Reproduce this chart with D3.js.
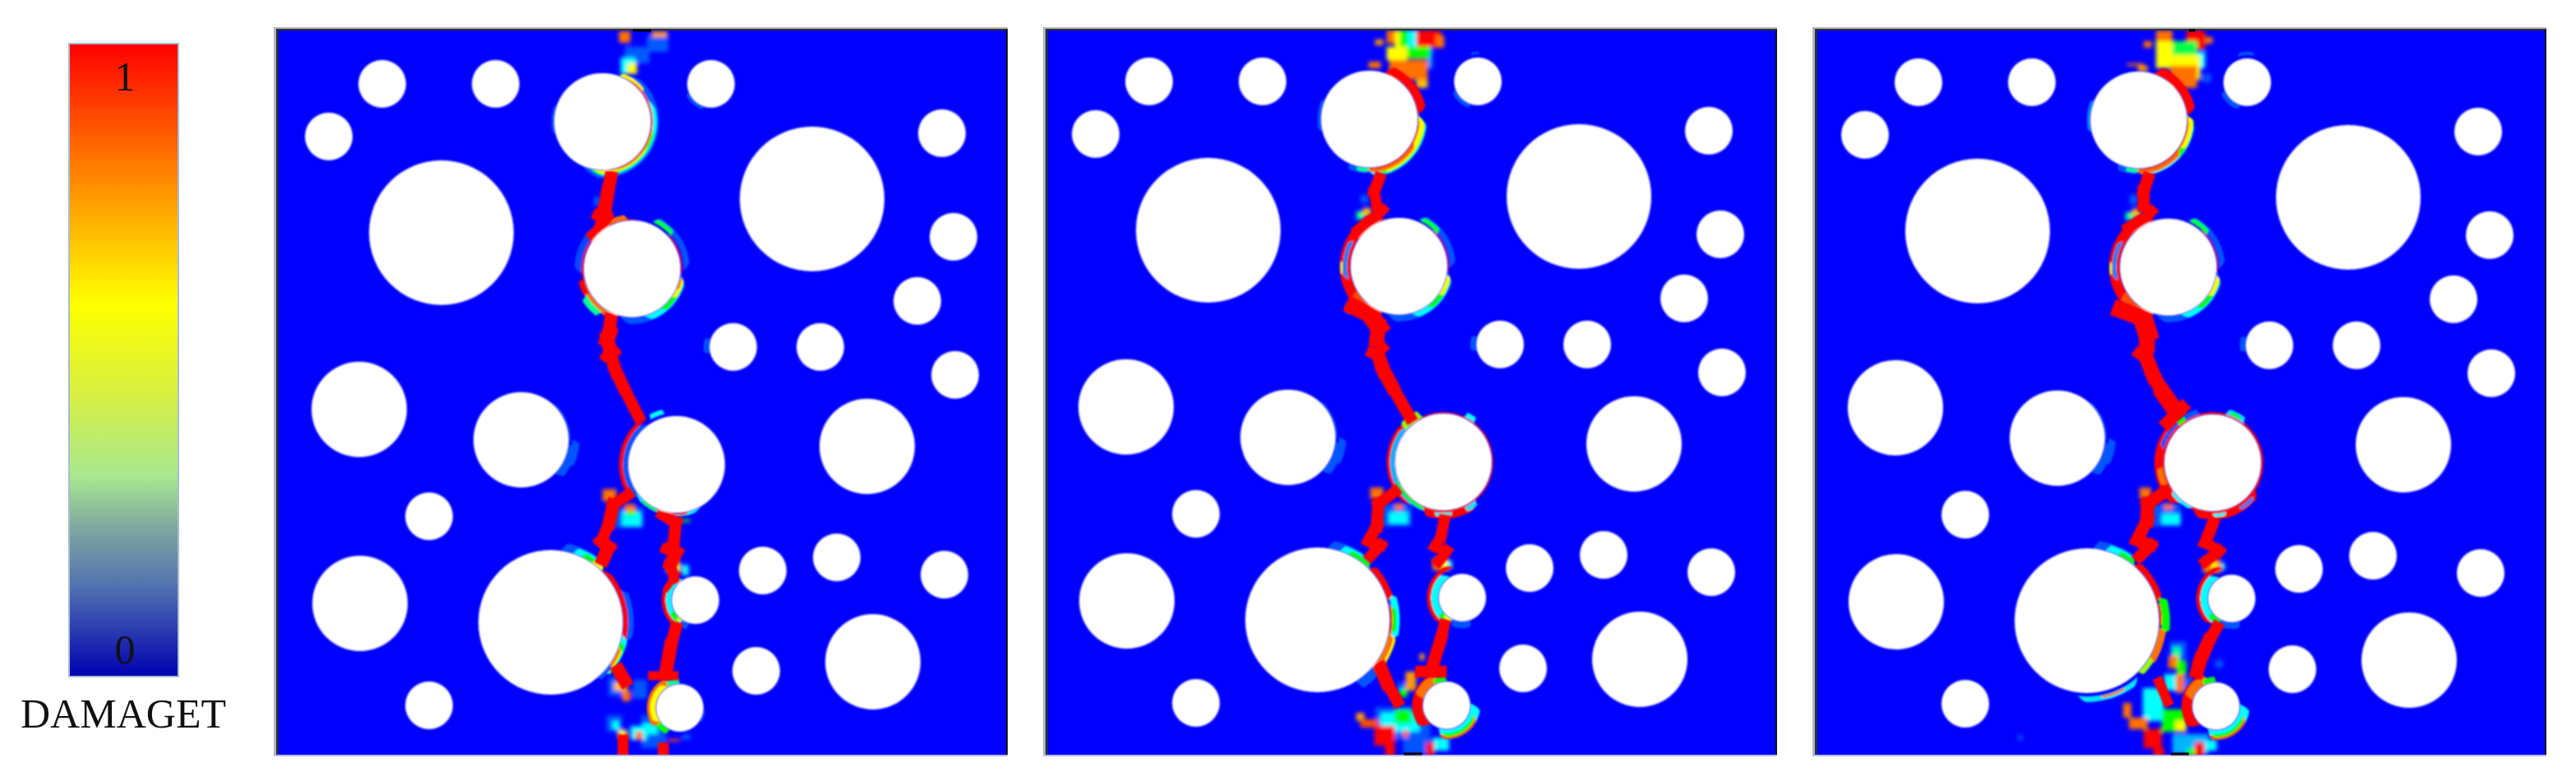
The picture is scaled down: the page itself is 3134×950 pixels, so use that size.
<!DOCTYPE html>
<html>
<head>
<meta charset="utf-8">
<script src="https://cdn.jsdelivr.net/npm/d3@7"></script>
<style>
  html, body { margin: 0; padding: 0; background: #fff; }
  svg { display: block; }
</style>
</head>
<body>
<script>
const width = 3134, height = 950;

// holes, same layout in every panel (specimen units)
const holeX = [397, 433, 487, 334, 510, 491, 529, 298, 556, 129, 267, 64, 810, 824, 780, 662, 826, 186, 592, 682, 813, 584, 186, 201, 652, 101, 719, 102, 726];
const holeY = [112, 291, 529, 721, 694, 825, 66, 499, 386, 66, 66, 130, 126, 252, 330, 386, 420, 592, 658, 642, 663, 780, 822, 247, 206, 462, 507, 698, 769];
const holeR = [59, 59, 59, 88, 29, 29, 29, 58, 29, 29, 29, 29, 29, 29, 29, 29, 29, 29, 29, 29, 29, 29, 29, 88, 88, 58, 58, 58, 58];

// damage around a hole: hole index, from deg, to deg, inner radius, outer radius, damage
const bands1 = [
  [0,20,205,59,69,.14],[0,255,290,59,62,.14],[0,60,195,59,66,.33],[0,95,195,59,64.5,.5],[0,115,190,59,63,.67],[0,20,55,59,64,.67],[0,25,175,59,61.5,.85],[0,30,170,59,60.5,1],
  [1,22,92,63,70,.14],[1,25,50,62,68,.45],[1,45,100,59,61,1],[1,95,195,59,67,.14],[1,100,165,59,66,.33],[1,100,145,59,65,.5],[1,100,125,59,64,.67],[1,100,115,59,62,.85],
  [1,265,320,62,70,.12],[1,195,370,59,61.5,1],[1,205,255,59,66,.85],[1,215,240,64,72,.4],[1,240,258,60,67,1],[1,325,355,60,66,.85],
  [6,195,250,29,33,.14],[8,255,290,29,36,.14],[7,40,95,58,60,.14],[7,95,135,58,68,.14],[7,90,120,62,71,.14],
  [2,225,325,59,66,.14],[2,235,325,65,70,1],[2,150,235,59,63,.33],[2,195,225,59,62,.5],[2,165,205,59,62,1],[2,330,347,63,69,.33],
  [3,8,45,88,98,.14],[3,18,45,88,96,.33],[3,25,45,88,94,.5],[3,35,45,88,93,.67],[3,65,105,93,101,.14],[3,43,120,88,94,1],[3,100,135,88,96,.33],[3,105,135,88,95,.5],[3,110,135,88,93.5,.67],[3,110,130,88,92,.85],[3,125,140,88,93,.14],
  [4,205,330,29,36,.33],[4,205,245,29,35,.5],[4,205,225,29,33,.67],[4,195,215,29,37,.14],[4,210,335,36,41,1],
  [5,225,345,29,40,.85],[5,235,330,29,36,.67],[5,330,360,29,36,.4],[5,205,235,29,36,.5],[5,95,125,29,31,.14]
];
const bands2 = [
  [0,18,85,59,70,1],[0,85,185,59,70,.33],[0,85,175,59,68.5,.5],[0,85,170,59,67,.67],[0,115,185,59,65,.85],[0,85,185,59,61,1],[0,180,205,59,66,.14],[0,180,195,59,64,.4],[0,255,295,59,63,.14],
  [6,195,250,29,34,.14],[6,345,363,33,36,.14],
  [1,220,345,59,72,1],[1,255,300,63,68,.2],[1,262,275,69,71.5,.65],[1,200,240,59,70,.9],[1,22,92,62,69,.14],[1,25,50,61,67,.45],[1,40,100,59,60.5,1],
  [1,95,195,59,67,.14],[1,100,165,59,66,.33],[1,100,145,59,65,.5],[1,100,125,59,64,.67],[8,255,290,29,36,.14],[7,40,95,58,60,.14],[7,95,135,58,68,.14],[7,90,120,62,71,.14],
  [2,0,360,59,61,1],[2,215,320,64,69,1],[2,190,320,59,65,.25],[2,190,250,59,63,.5],[2,310,335,60,70,.6],[2,140,205,59,69,1],[2,170,190,62,66,.33],[2,140,155,61,67,.3],[2,25,38,61,67,.33],
  [3,8,45,88,98,.14],[3,18,45,88,96,.33],[3,25,45,88,94,.5],[3,70,105,91,100,.33],[3,80,100,91,96,.5],[3,45,75,88,96,1],[3,75,125,88,91,1],[3,100,135,88,98,.67],[3,100,135,88,95,.85],[3,130,148,88,100,.14],
  [4,205,330,29,38,.33],[4,205,235,29,36,.5],[4,205,225,29,33,.67],[4,215,345,38,43,1],[4,160,205,29,37,.14],
  [5,220,345,29,42,1],[5,285,345,29,40,.85],[5,330,360,29,36,.5],[5,85,200,29,41,.33],[5,110,195,36,41,.9],[5,110,190,34,38,.5]
];
const bands3 = [
  [0,18,85,59,70,1],[0,85,185,59,68,.33],[0,85,140,59,67,.5],[0,85,125,59,66,.67],[0,125,185,59,66,.85],[0,85,185,59,61,1],[0,180,205,59,66,.14],[0,180,195,59,64,.4],[0,255,295,59,63,.2],
  [6,195,250,29,35,.14],[6,340,375,33,37,.14],
  [1,220,345,59,72,1],[1,255,300,63,68,.2],[1,262,275,69,71.5,.65],[1,200,240,59,70,.9],[1,22,92,62,69,.14],[1,25,50,61,67,.45],[1,40,100,59,60.5,1],
  [1,95,195,59,67,.14],[1,100,165,59,66,.33],[1,100,145,59,65,.5],[1,100,125,59,64,.67],[8,255,290,29,36,.14],[7,40,95,58,60,.14],[7,95,135,58,68,.14],[7,90,120,62,71,.14],
  [2,0,360,59,62,1],[2,215,330,59,71,1],[2,285,325,62,67,.14],[2,245,265,61,68,.85],[2,318,330,61,67,.5],[2,120,205,59,69,1],[2,165,180,62,66,.33],[2,130,150,63,67,.2],[2,205,235,59,63,.33],[2,15,38,61,68,.3],[2,20,32,62,66,.5],[2,327,345,61,68,.14],
  [3,5,40,88,98,.14],[3,15,40,88,96,.33],[3,25,40,88,94,.5],[3,72,100,91,101,.5],[3,40,75,88,96,1],[3,75,95,88,91,1],[3,95,125,88,97,.85],[3,120,135,88,95,.6],[3,138,187,92,99,.3],[3,150,170,93,96,.85],
  [4,205,330,29,38,.33],[4,205,235,29,36,.5],[4,215,345,38,43,1],[4,160,205,29,37,.14],
  [5,220,345,29,42,1],[5,285,345,29,40,.85],[5,330,360,29,36,.5],[5,85,200,29,41,.33],[5,110,195,36,41,.9],[5,110,190,34,38,.5]
];

// crack centre lines: x, y, width
const cracks1 = [
  [[407,180,14],[403,200,15],[400,218,15],[402,224,12],[392,226,10],[400,230,16],[395,240,14],[385,250,9]],
  [[407,352,13],[405,370,16],[403,376,18],[405,385,13],[411,392,13],[401,398,7],[409,402,14],[413,415,14],[422,434,14],[441,471,12]],
  [[428,566,10],[410,578,15],[405,600,14],[396,622,12],[404,630,18],[398,644,12]],
  [[470,590,10],[486,600,15],[484,622,12],[474,632,8],[487,636,14],[480,650,15],[484,668,8],[475,680,5]],
  [[486,728,12],[480,750,15],[474,782,15]],
  [[458,786,10],[484,786,10]],
  [[417,780,15],[424,792,14]],
  [[422,864,12],[422,884,12]],
  [[471,874,12],[471,884,12]]
];
const cracks2 = [
  [[409,184,13],[403,200,13],[406,217,11],[414,222,8],[401,234,13],[384,247,13]],
  [[378,340,14],[398,350,22],[408,364,18],[406,380,15],[414,390,7],[400,396,8],[408,400,16],[414,417,15],[424,436,16],[446,474,11]],
  [[428,565,11],[408,580,14],[406,607,13],[396,625,13],[411,630,11],[398,644,13]],
  [[488,600,14],[484,620,11],[476,632,11],[491,637,9],[481,650,15]],
  [[488,727,11],[484,744,14],[474,777,14]],
  [[460,784,13],[484,784,13]],
  [[411,780,15],[418,797,15],[431,820,11]]
];
const cracks3 = [
  [[408,183,13],[403,199,14],[403,216,13],[413,223,9],[402,233,13],[385,243,13]],
  [[375,343,13],[402,353,24],[407,369,20],[407,386,15],[397,396,6],[407,403,18],[415,423,15],[428,446,17],[442,466,20]],
  [[432,480,14],[450,462,14]],
  [[422,569,13],[408,579,15],[407,599,15],[395,623,13],[412,629,13],[398,643,13]],
  [[487,603,14],[478,626,13],[495,636,11],[478,649,13]],
  [[492,729,11],[482,746,15],[472,769,15],[468,783,15]],
  [[422,796,11],[432,819,11]]
];

// damaged element patches: x, y, w, h, damage
const cells1 = [
  [451,7,26,20,.15],[424,21,30,20,.15],[419,34,18,20,.33],[427,41,12,13,.67],[457,2,19,7,.8],[417,2,14,14,.85],
  [386,204,10,10,.14],
  [402,834,19,20,.14],[409,841,8,10,.33],[444,834,30,40,.14],[431,847,20,17,.33],[446,844,18,13,.33],[437,854,9,10,.85],[416,852,11,10,.67],
  [434,791,17,23,.14],[404,787,17,24,.14],[411,794,16,10,.75],[421,804,10,13,.85],
  [407,581,40,25,.14],[421,587,23,17,.33],[427,586,10,6,.5],[424,577,13,9,.85],[397,559,17,15,.85],
  [494,857,10,7,.14],[477,863,14,3,.9],[494,651,8,13,.33],[474,644,16,17,.85],[486,649,6,10,.67],[487,596,17,3,.5]
];
const cells2 = [
  [454,4,30,21,1],[478,10,10,15,.85],[418,4,10,16,.85],[428,4,6,23,.67],[434,4,10,23,.5],[444,4,10,20,.33],[468,24,6,26,.2],
  [418,24,25,16,.67],[443,24,28,14,.5],[421,40,47,24,.85],[454,64,14,10,.75],[404,15,10,7,.8],[396,42,15,8,.85],
  [386,204,10,10,.14],[381,224,10,10,.4],[389,220,10,10,.75],[369,337,12,10,.8],
  [398,560,16,14,.85],[411,580,37,27,.14],[421,590,23,14,.33],[428,579,10,8,.85],[458,762,6,8,.8],
  [441,784,13,23,.8],[431,797,10,10,.14],[433,805,10,10,.5],
  [404,827,67,40,.14],[411,834,47,23,.33],[428,830,20,17,.5],[438,855,6,9,.85],[438,864,33,20,.14],[474,864,20,16,.33],
  [381,834,10,10,.8],[386,842,22,10,.9],[403,850,25,24,1],[416,874,12,13,1],[466,870,10,17,1],
  [474,646,20,15,.85],[484,649,8,10,.67],[492,650,6,8,.33]
];
const cells3 = [
  [418,3,20,13,.85],[455,3,23,23,1],[478,11,9,8,.85],[403,16,10,8,.85],[418,16,20,33,.67],[438,16,30,20,.45],[468,29,10,20,.33],[475,56,10,10,.14],
  [435,33,37,30,.67],[435,46,33,27,.85],[383,43,20,3,.85],[396,46,12,7,.8],
  [386,203,10,12,.14],[381,224,10,10,.4],[389,220,10,10,.75],
  [398,559,14,14,.85],[412,579,36,27,.14],[425,591,23,13,.33],[428,578,10,8,.85],[490,769,10,9,.14],[250,860,6,6,.14],
  [435,746,20,20,.14],[438,753,10,16,.4],[433,764,12,15,.85],[443,769,12,17,.5],[428,786,14,20,.33],[442,786,10,23,.85],[452,789,11,17,.14],
  [402,803,26,40,.33],[425,829,30,27,.5],[442,843,13,13,.67],[438,859,44,24,.25],[378,821,10,18,.85],[385,839,23,14,.85],[403,853,22,23,1],[415,876,13,11,1],[465,869,12,17,1],[455,876,10,10,.5],[478,866,14,13,.33],
  [475,646,22,17,.85],[486,649,6,10,.67],[497,651,5,8,.33]
];

const bandSets = [bands1, bands2, bands3];
const crackSets = [cracks1, cracks2, cracks3];
const cellSets = [cells1, cells2, cells3];

const panelLeft = [336, 1272, 2208];
const panelShiftX = [0, -3, -3];
const panelShiftY = [0, -3, -2];
const panelW = 890, panelH = 882, panelTop = 36;

// black scraps left on the frame: panel, x from, x to, y (specimen units)
const nickPanel = [0, 1, 2, 2];
const nickFrom = [434, 436, 433, 455];
const nickTo = [456, 458, 455, 463];
const nickY = [1, 881, 881, 1];

// plot colours and colour bar stops
const damageStops = [0, .17, .33, .5, .67, .83, 1];
const damageColors = ["#0000ff", "#0066ff", "#00ffff", "#00ff00", "#ffff00", "#ff8000", "#ff0000"];
const legendOffsets = [0, .2, .41, .55, .684, .765, .86, 1];
const legendColors = ["#ff0000", "#ff8000", "#ffff00", "#d8f040", "#a8e890", "#7fa8a0", "#5070b0", "#0000b0"];

const color = d3.scaleLinear().domain(damageStops).range(damageColors);
const toRad = d => d * Math.PI / 180;
const crackFactor = 1.1;

const svg = d3.select("body").append("svg")
  .attr("width", width)
  .attr("height", height);

const defs = svg.append("defs");
function blur(id, s) {
  defs.append("filter").attr("id", id)
    .attr("x", "-2%").attr("y", "-2%").attr("width", "104%").attr("height", "104%")
    .append("feGaussianBlur").attr("stdDeviation", s);
}
blur("soft", 0.9);
blur("softer", 1.3);
blur("patch", 2.4);

const grad = defs.append("linearGradient").attr("id", "bar")
  .attr("x1", 0).attr("y1", 0).attr("x2", 0).attr("y2", 1);
grad.selectAll("stop").data(legendOffsets).join("stop")
  .attr("offset", d => d)
  .attr("stop-color", (d, i) => legendColors[i]);

// colour bar
svg.append("rect")
  .attr("x", 84).attr("y", 53).attr("width", 133).attr("height", 770)
  .attr("fill", "url(#bar)")
  .attr("stroke", "#a9bcd0").attr("stroke-width", 2);

const legendFont = "'Liberation Serif', serif";
svg.append("text").attr("x", 152).attr("y", 110).attr("text-anchor", "middle")
  .style("font-family", legendFont).style("font-size", "50px").attr("fill", "#111").text("1");
svg.append("text").attr("x", 152).attr("y", 807).attr("text-anchor", "middle")
  .style("font-family", legendFont).style("font-size", "50px").attr("fill", "#111").text("0");
svg.append("text").attr("x", 25).attr("y", 885)
  .attr("textLength", 250).attr("lengthAdjust", "spacingAndGlyphs")
  .style("font-family", legendFont).style("font-size", "50px").attr("fill", "#111").text("DAMAGET");

panelLeft.forEach((left, p) => {
  const x = d3.scaleLinear().domain([0, panelW]).range([left + panelShiftX[p], left + panelShiftX[p] + panelW]);
  const y = d3.scaleLinear().domain([0, panelH]).range([panelTop + panelShiftY[p], panelTop + panelShiftY[p] + panelH]);
  const r = d3.scaleLinear().domain([0, panelW]).range([0, panelW]);

  const clipId = "clip" + p;
  defs.append("clipPath").attr("id", clipId).append("rect")
    .attr("x", left).attr("y", panelTop).attr("width", panelW).attr("height", panelH);

  const g = svg.append("g").attr("clip-path", `url(#${clipId})`);
  g.append("rect")
    .attr("x", left).attr("y", panelTop).attr("width", panelW).attr("height", panelH)
    .attr("fill", "#0000ff");

  g.append("g").attr("filter", "url(#patch)")
    .selectAll("rect").data(cellSets[p]).join("rect")
    .attr("x", d => x(d[0])).attr("y", d => y(d[1]))
    .attr("width", d => r(d[2])).attr("height", d => r(d[3]))
    .attr("fill", d => color(d[4]));

  // bands taper to nothing at both ends, closed rings stay even
  const steps = d3.range(0, 1.001, 0.04);
  g.append("g").attr("filter", "url(#softer)")
    .selectAll("path").data(bandSets[p]).join("path")
    .attr("transform", d => `translate(${x(holeX[d[0]])},${y(holeY[d[0]])})`)
    .attr("d", d => d3.areaRadial()
      .angle(t => toRad(d[1] + (d[2] - d[1]) * t))
      .innerRadius(r(d[3]))
      .outerRadius(t => d[2] - d[1] >= 360 ? r(d[4])
        : r(d[3]) + r(d[4] - d[3]) * Math.min(1, Math.sin(Math.PI * t) * 3))
      (steps))
    .attr("fill", d => color(d[5]));

  const soft = g.append("g").attr("filter", "url(#soft)");

  // crack pieces, one line per step so the width can change
  crackSets[p].forEach(crack => {
    soft.append("g").selectAll("line").data(d3.pairs(crack)).join("line")
      .attr("x1", d => x(d[0][0])).attr("y1", d => y(d[0][1]))
      .attr("x2", d => x(d[1][0])).attr("y2", d => y(d[1][1]))
      .attr("stroke", color(1))
      .attr("stroke-width", d => r((d[0][2] + d[1][2]) / 2) * crackFactor)
      .attr("stroke-linecap", "square");
  });

  soft.append("g").selectAll("circle").data(holeX).join("circle")
    .attr("cx", d => x(d))
    .attr("cy", (d, i) => y(holeY[i]))
    .attr("r", (d, i) => r(holeR[i]))
    .attr("fill", "#fff");

  // frame: grey with a dark inner edge on top and left, black right, pale bottom
  svg.append("line")
    .attr("x1", left - 3).attr("x2", left + panelW).attr("y1", panelTop - 2).attr("y2", panelTop - 2)
    .attr("stroke", "#bbb").attr("stroke-width", 2);
  svg.append("line")
    .attr("x1", left).attr("x2", left + panelW).attr("y1", panelTop).attr("y2", panelTop)
    .attr("stroke", "#333").attr("stroke-width", 2);
  svg.append("line")
    .attr("x1", left - 1.5).attr("x2", left - 1.5).attr("y1", panelTop - 3).attr("y2", panelTop + panelH + 2)
    .attr("stroke", "#b4b8bc").attr("stroke-width", 3);
  svg.append("line")
    .attr("x1", left + 1.5).attr("x2", left + 1.5).attr("y1", panelTop).attr("y2", panelTop + panelH)
    .attr("stroke", "#223044").attr("stroke-width", 3);
  svg.append("line")
    .attr("x1", left + panelW - 1).attr("x2", left + panelW - 1).attr("y1", panelTop).attr("y2", panelTop + panelH)
    .attr("stroke", "#111").attr("stroke-width", 2);
  svg.append("line")
    .attr("x1", left - 3).attr("x2", left + panelW).attr("y1", panelTop + panelH + 1).attr("y2", panelTop + panelH + 1)
    .attr("stroke", "#b8b8ee").attr("stroke-width", 2);
});

// black scraps on the frames
svg.append("g").selectAll("line").data(nickPanel).join("line")
  .attr("x1", (d, i) => panelLeft[d] + nickFrom[i])
  .attr("x2", (d, i) => panelLeft[d] + nickTo[i])
  .attr("y1", (d, i) => panelTop + nickY[i])
  .attr("y2", (d, i) => panelTop + nickY[i])
  .attr("stroke", "#000").attr("stroke-width", 3);
</script>
</body>
</html>
